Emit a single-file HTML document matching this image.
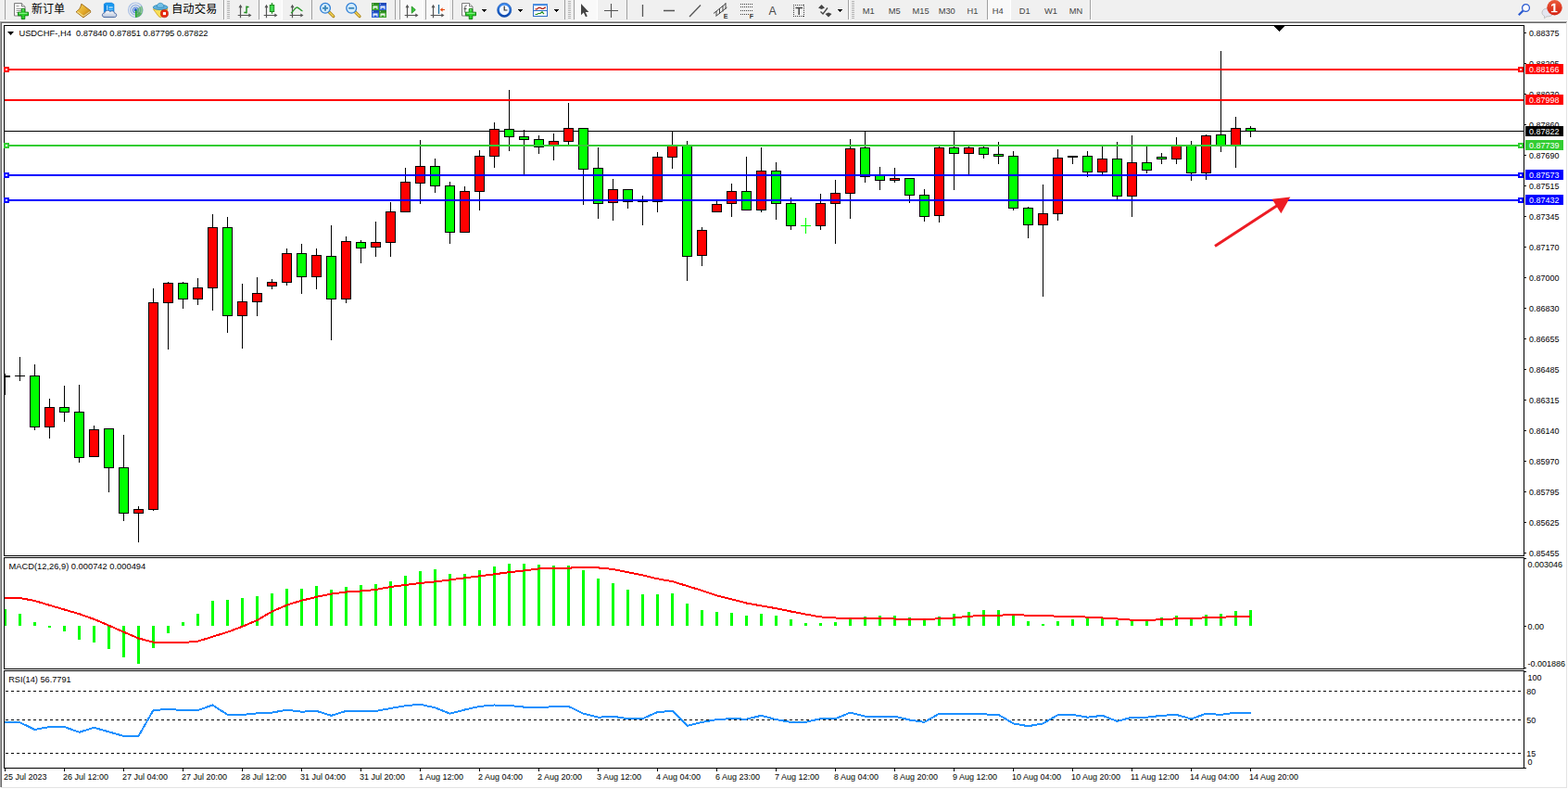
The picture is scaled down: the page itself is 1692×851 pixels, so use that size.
<!DOCTYPE html>
<html><head><meta charset="utf-8"><title>USDCHF H4</title>
<style>
html,body{margin:0;padding:0;background:#fff;}
body{width:1692px;height:851px;overflow:hidden;}
svg{display:block;font-family:"Liberation Sans",sans-serif;}
</style></head><body>
<svg width="1692" height="851" viewBox="0 0 1692 851" shape-rendering="crispEdges">
<rect x="0" y="0" width="1692" height="851" fill="#fff"/>
<rect x="0" y="0" width="1692" height="22" fill="#f0f0f0"/>
<rect x="0" y="22" width="1692" height="1" fill="#fdfdfd"/>
<rect x="0" y="23" width="1691" height="1" fill="#a0a0a0"/>
<rect x="0" y="23" width="1" height="826" fill="#a0a0a0"/>
<rect x="1" y="24" width="1689" height="1" fill="#696969"/>
<rect x="1" y="24" width="1" height="825" fill="#696969"/>
<rect x="1690" y="24" width="1" height="826" fill="#e3e3e3"/>
<rect x="1" y="849" width="1690" height="1" fill="#e3e3e3"/>
<rect x="1691" y="23" width="1" height="828" fill="#fff"/>
<rect x="0" y="850" width="1692" height="1" fill="#fff"/>
<rect x="4" y="27" width="1641" height="1" fill="#000"/>
<rect x="4" y="599" width="1641" height="1" fill="#000"/>
<rect x="4" y="27" width="1" height="573" fill="#000"/>
<rect x="1644" y="27" width="1" height="573" fill="#000"/>
<rect x="4" y="601" width="1641" height="1" fill="#000"/>
<rect x="4" y="721" width="1641" height="1" fill="#000"/>
<rect x="4" y="601" width="1" height="121" fill="#000"/>
<rect x="1644" y="601" width="1" height="121" fill="#000"/>
<rect x="4" y="723" width="1641" height="1" fill="#000"/>
<rect x="4" y="828" width="1641" height="1" fill="#000"/>
<rect x="4" y="723" width="1" height="106" fill="#000"/>
<rect x="1644" y="723" width="1" height="106" fill="#000"/>
<rect x="5" y="141" width="1639" height="1" fill="#000"/>
<rect x="5" y="403" width="1" height="23" fill="#000"/>
<rect x="5" y="405" width="6" height="2" fill="#000"/>
<rect x="37" y="393" width="1" height="71" fill="#000"/>
<rect x="32" y="405" width="11" height="56" fill="#000"/>
<rect x="33" y="406" width="9" height="54" fill="#00ff00"/>
<rect x="53" y="430" width="1" height="43" fill="#000"/>
<rect x="48" y="439" width="11" height="22" fill="#000"/>
<rect x="49" y="440" width="9" height="20" fill="#ff0000"/>
<rect x="69" y="416" width="1" height="39" fill="#000"/>
<rect x="64" y="439" width="11" height="6" fill="#000"/>
<rect x="65" y="440" width="9" height="4" fill="#00ff00"/>
<rect x="85" y="415" width="1" height="84" fill="#000"/>
<rect x="80" y="444" width="11" height="50" fill="#000"/>
<rect x="81" y="445" width="9" height="48" fill="#00ff00"/>
<rect x="101" y="459" width="1" height="34" fill="#000"/>
<rect x="96" y="463" width="11" height="30" fill="#000"/>
<rect x="97" y="464" width="9" height="28" fill="#ff0000"/>
<rect x="117" y="462" width="1" height="69" fill="#000"/>
<rect x="112" y="462" width="11" height="43" fill="#000"/>
<rect x="113" y="463" width="9" height="41" fill="#00ff00"/>
<rect x="133" y="469" width="1" height="93" fill="#000"/>
<rect x="128" y="504" width="11" height="50" fill="#000"/>
<rect x="129" y="505" width="9" height="48" fill="#00ff00"/>
<rect x="149" y="546" width="1" height="39" fill="#000"/>
<rect x="144" y="549" width="11" height="5" fill="#000"/>
<rect x="145" y="550" width="9" height="3" fill="#ff0000"/>
<rect x="165" y="311" width="1" height="240" fill="#000"/>
<rect x="160" y="326" width="11" height="224" fill="#000"/>
<rect x="161" y="327" width="9" height="222" fill="#ff0000"/>
<rect x="181" y="304" width="1" height="73" fill="#000"/>
<rect x="176" y="305" width="11" height="22" fill="#000"/>
<rect x="177" y="306" width="9" height="20" fill="#ff0000"/>
<rect x="197" y="304" width="1" height="29" fill="#000"/>
<rect x="192" y="305" width="11" height="18" fill="#000"/>
<rect x="193" y="306" width="9" height="16" fill="#00ff00"/>
<rect x="213" y="300" width="1" height="29" fill="#000"/>
<rect x="208" y="310" width="11" height="13" fill="#000"/>
<rect x="209" y="311" width="9" height="11" fill="#ff0000"/>
<rect x="229" y="231" width="1" height="104" fill="#000"/>
<rect x="224" y="245" width="11" height="66" fill="#000"/>
<rect x="225" y="246" width="9" height="64" fill="#ff0000"/>
<rect x="245" y="234" width="1" height="125" fill="#000"/>
<rect x="240" y="245" width="11" height="96" fill="#000"/>
<rect x="241" y="246" width="9" height="94" fill="#00ff00"/>
<rect x="261" y="306" width="1" height="70" fill="#000"/>
<rect x="256" y="325" width="11" height="16" fill="#000"/>
<rect x="257" y="326" width="9" height="14" fill="#ff0000"/>
<rect x="277" y="299" width="1" height="42" fill="#000"/>
<rect x="272" y="316" width="11" height="10" fill="#000"/>
<rect x="273" y="317" width="9" height="8" fill="#ff0000"/>
<rect x="293" y="301" width="1" height="11" fill="#000"/>
<rect x="288" y="304" width="11" height="5" fill="#000"/>
<rect x="289" y="305" width="9" height="3" fill="#ff0000"/>
<rect x="309" y="268" width="1" height="40" fill="#000"/>
<rect x="304" y="273" width="11" height="32" fill="#000"/>
<rect x="305" y="274" width="9" height="30" fill="#ff0000"/>
<rect x="325" y="263" width="1" height="54" fill="#000"/>
<rect x="320" y="273" width="11" height="26" fill="#000"/>
<rect x="321" y="274" width="9" height="24" fill="#00ff00"/>
<rect x="341" y="268" width="1" height="44" fill="#000"/>
<rect x="336" y="275" width="11" height="24" fill="#000"/>
<rect x="337" y="276" width="9" height="22" fill="#ff0000"/>
<rect x="357" y="243" width="1" height="124" fill="#000"/>
<rect x="352" y="276" width="11" height="47" fill="#000"/>
<rect x="353" y="277" width="9" height="45" fill="#00ff00"/>
<rect x="373" y="255" width="1" height="72" fill="#000"/>
<rect x="368" y="260" width="11" height="63" fill="#000"/>
<rect x="369" y="261" width="9" height="61" fill="#ff0000"/>
<rect x="389" y="259" width="1" height="25" fill="#000"/>
<rect x="384" y="261" width="11" height="7" fill="#000"/>
<rect x="385" y="262" width="9" height="5" fill="#00ff00"/>
<rect x="405" y="239" width="1" height="38" fill="#000"/>
<rect x="400" y="261" width="11" height="6" fill="#000"/>
<rect x="401" y="262" width="9" height="4" fill="#ff0000"/>
<rect x="421" y="218" width="1" height="59" fill="#000"/>
<rect x="416" y="228" width="11" height="34" fill="#000"/>
<rect x="417" y="229" width="9" height="32" fill="#ff0000"/>
<rect x="437" y="181" width="1" height="48" fill="#000"/>
<rect x="432" y="196" width="11" height="33" fill="#000"/>
<rect x="433" y="197" width="9" height="31" fill="#ff0000"/>
<rect x="453" y="151" width="1" height="69" fill="#000"/>
<rect x="448" y="179" width="11" height="19" fill="#000"/>
<rect x="449" y="180" width="9" height="17" fill="#ff0000"/>
<rect x="469" y="171" width="1" height="37" fill="#000"/>
<rect x="464" y="179" width="11" height="22" fill="#000"/>
<rect x="465" y="180" width="9" height="20" fill="#00ff00"/>
<rect x="485" y="196" width="1" height="67" fill="#000"/>
<rect x="480" y="200" width="11" height="51" fill="#000"/>
<rect x="481" y="201" width="9" height="49" fill="#00ff00"/>
<rect x="501" y="201" width="1" height="50" fill="#000"/>
<rect x="496" y="206" width="11" height="45" fill="#000"/>
<rect x="497" y="207" width="9" height="43" fill="#ff0000"/>
<rect x="517" y="162" width="1" height="65" fill="#000"/>
<rect x="512" y="168" width="11" height="39" fill="#000"/>
<rect x="513" y="169" width="9" height="37" fill="#ff0000"/>
<rect x="533" y="132" width="1" height="49" fill="#000"/>
<rect x="528" y="139" width="11" height="30" fill="#000"/>
<rect x="529" y="140" width="9" height="28" fill="#ff0000"/>
<rect x="549" y="97" width="1" height="66" fill="#000"/>
<rect x="544" y="139" width="11" height="9" fill="#000"/>
<rect x="545" y="140" width="9" height="7" fill="#00ff00"/>
<rect x="565" y="140" width="1" height="49" fill="#000"/>
<rect x="560" y="147" width="11" height="4" fill="#000"/>
<rect x="561" y="148" width="9" height="2" fill="#00ff00"/>
<rect x="581" y="146" width="1" height="20" fill="#000"/>
<rect x="576" y="150" width="11" height="9" fill="#000"/>
<rect x="577" y="151" width="9" height="7" fill="#00ff00"/>
<rect x="597" y="144" width="1" height="29" fill="#000"/>
<rect x="592" y="152" width="11" height="5" fill="#000"/>
<rect x="593" y="153" width="9" height="3" fill="#ff0000"/>
<rect x="613" y="111" width="1" height="45" fill="#000"/>
<rect x="608" y="138" width="11" height="15" fill="#000"/>
<rect x="609" y="139" width="9" height="13" fill="#ff0000"/>
<rect x="629" y="138" width="1" height="83" fill="#000"/>
<rect x="624" y="138" width="11" height="45" fill="#000"/>
<rect x="625" y="139" width="9" height="43" fill="#00ff00"/>
<rect x="645" y="159" width="1" height="77" fill="#000"/>
<rect x="640" y="181" width="11" height="39" fill="#000"/>
<rect x="641" y="182" width="9" height="37" fill="#00ff00"/>
<rect x="661" y="193" width="1" height="45" fill="#000"/>
<rect x="656" y="204" width="11" height="15" fill="#000"/>
<rect x="657" y="205" width="9" height="13" fill="#ff0000"/>
<rect x="677" y="204" width="1" height="21" fill="#000"/>
<rect x="672" y="204" width="11" height="14" fill="#000"/>
<rect x="673" y="205" width="9" height="12" fill="#00ff00"/>
<rect x="709" y="164" width="1" height="65" fill="#000"/>
<rect x="704" y="169" width="11" height="49" fill="#000"/>
<rect x="705" y="170" width="9" height="47" fill="#ff0000"/>
<rect x="725" y="142" width="1" height="40" fill="#000"/>
<rect x="720" y="157" width="11" height="13" fill="#000"/>
<rect x="721" y="158" width="9" height="11" fill="#ff0000"/>
<rect x="741" y="152" width="1" height="151" fill="#000"/>
<rect x="736" y="157" width="11" height="120" fill="#000"/>
<rect x="737" y="158" width="9" height="118" fill="#00ff00"/>
<rect x="757" y="245" width="1" height="42" fill="#000"/>
<rect x="752" y="248" width="11" height="28" fill="#000"/>
<rect x="753" y="249" width="9" height="26" fill="#ff0000"/>
<rect x="773" y="217" width="1" height="12" fill="#000"/>
<rect x="768" y="220" width="11" height="9" fill="#000"/>
<rect x="769" y="221" width="9" height="7" fill="#ff0000"/>
<rect x="789" y="198" width="1" height="36" fill="#000"/>
<rect x="784" y="206" width="11" height="14" fill="#000"/>
<rect x="785" y="207" width="9" height="12" fill="#ff0000"/>
<rect x="805" y="169" width="1" height="58" fill="#000"/>
<rect x="800" y="206" width="11" height="21" fill="#000"/>
<rect x="801" y="207" width="9" height="19" fill="#00ff00"/>
<rect x="821" y="159" width="1" height="70" fill="#000"/>
<rect x="816" y="184" width="11" height="43" fill="#000"/>
<rect x="817" y="185" width="9" height="41" fill="#ff0000"/>
<rect x="837" y="175" width="1" height="62" fill="#000"/>
<rect x="832" y="184" width="11" height="36" fill="#000"/>
<rect x="833" y="185" width="9" height="34" fill="#00ff00"/>
<rect x="853" y="213" width="1" height="35" fill="#000"/>
<rect x="848" y="219" width="11" height="25" fill="#000"/>
<rect x="849" y="220" width="9" height="23" fill="#00ff00"/>
<rect x="885" y="209" width="1" height="39" fill="#000"/>
<rect x="880" y="219" width="11" height="25" fill="#000"/>
<rect x="881" y="220" width="9" height="23" fill="#ff0000"/>
<rect x="901" y="194" width="1" height="69" fill="#000"/>
<rect x="896" y="208" width="11" height="12" fill="#000"/>
<rect x="897" y="209" width="9" height="10" fill="#ff0000"/>
<rect x="917" y="150" width="1" height="86" fill="#000"/>
<rect x="912" y="160" width="11" height="49" fill="#000"/>
<rect x="913" y="161" width="9" height="47" fill="#ff0000"/>
<rect x="933" y="142" width="1" height="55" fill="#000"/>
<rect x="928" y="159" width="11" height="32" fill="#000"/>
<rect x="929" y="160" width="9" height="30" fill="#00ff00"/>
<rect x="949" y="180" width="1" height="25" fill="#000"/>
<rect x="944" y="189" width="11" height="6" fill="#000"/>
<rect x="945" y="190" width="9" height="4" fill="#00ff00"/>
<rect x="965" y="181" width="1" height="16" fill="#000"/>
<rect x="960" y="192" width="11" height="3" fill="#000"/>
<rect x="961" y="193" width="9" height="1" fill="#ff0000"/>
<rect x="981" y="192" width="1" height="27" fill="#000"/>
<rect x="976" y="192" width="11" height="19" fill="#000"/>
<rect x="977" y="193" width="9" height="17" fill="#00ff00"/>
<rect x="997" y="204" width="1" height="35" fill="#000"/>
<rect x="992" y="210" width="11" height="24" fill="#000"/>
<rect x="993" y="211" width="9" height="22" fill="#00ff00"/>
<rect x="1013" y="158" width="1" height="82" fill="#000"/>
<rect x="1008" y="159" width="11" height="74" fill="#000"/>
<rect x="1009" y="160" width="9" height="72" fill="#ff0000"/>
<rect x="1029" y="142" width="1" height="63" fill="#000"/>
<rect x="1024" y="159" width="11" height="7" fill="#000"/>
<rect x="1025" y="160" width="9" height="5" fill="#00ff00"/>
<rect x="1045" y="158" width="1" height="31" fill="#000"/>
<rect x="1040" y="159" width="11" height="7" fill="#000"/>
<rect x="1041" y="160" width="9" height="5" fill="#ff0000"/>
<rect x="1061" y="158" width="1" height="13" fill="#000"/>
<rect x="1056" y="159" width="11" height="8" fill="#000"/>
<rect x="1057" y="160" width="9" height="6" fill="#00ff00"/>
<rect x="1077" y="153" width="1" height="24" fill="#000"/>
<rect x="1072" y="166" width="11" height="3" fill="#000"/>
<rect x="1073" y="167" width="9" height="1" fill="#00ff00"/>
<rect x="1093" y="163" width="1" height="64" fill="#000"/>
<rect x="1088" y="168" width="11" height="57" fill="#000"/>
<rect x="1089" y="169" width="9" height="55" fill="#00ff00"/>
<rect x="1109" y="223" width="1" height="34" fill="#000"/>
<rect x="1104" y="224" width="11" height="19" fill="#000"/>
<rect x="1105" y="225" width="9" height="17" fill="#00ff00"/>
<rect x="1125" y="199" width="1" height="121" fill="#000"/>
<rect x="1120" y="230" width="11" height="13" fill="#000"/>
<rect x="1121" y="231" width="9" height="11" fill="#ff0000"/>
<rect x="1141" y="161" width="1" height="77" fill="#000"/>
<rect x="1136" y="170" width="11" height="61" fill="#000"/>
<rect x="1137" y="171" width="9" height="59" fill="#ff0000"/>
<rect x="1173" y="163" width="1" height="28" fill="#000"/>
<rect x="1168" y="168" width="11" height="18" fill="#000"/>
<rect x="1169" y="169" width="9" height="16" fill="#00ff00"/>
<rect x="1189" y="158" width="1" height="31" fill="#000"/>
<rect x="1184" y="171" width="11" height="15" fill="#000"/>
<rect x="1185" y="172" width="9" height="13" fill="#ff0000"/>
<rect x="1205" y="153" width="1" height="62" fill="#000"/>
<rect x="1200" y="171" width="11" height="41" fill="#000"/>
<rect x="1201" y="172" width="9" height="39" fill="#00ff00"/>
<rect x="1221" y="146" width="1" height="88" fill="#000"/>
<rect x="1216" y="175" width="11" height="37" fill="#000"/>
<rect x="1217" y="176" width="9" height="35" fill="#ff0000"/>
<rect x="1237" y="158" width="1" height="29" fill="#000"/>
<rect x="1232" y="175" width="11" height="9" fill="#000"/>
<rect x="1233" y="176" width="9" height="7" fill="#00ff00"/>
<rect x="1253" y="165" width="1" height="12" fill="#000"/>
<rect x="1248" y="169" width="11" height="3" fill="#000"/>
<rect x="1249" y="170" width="9" height="1" fill="#00ff00"/>
<rect x="1269" y="148" width="1" height="29" fill="#000"/>
<rect x="1264" y="157" width="11" height="15" fill="#000"/>
<rect x="1265" y="158" width="9" height="13" fill="#ff0000"/>
<rect x="1285" y="152" width="1" height="43" fill="#000"/>
<rect x="1280" y="157" width="11" height="30" fill="#000"/>
<rect x="1281" y="158" width="9" height="28" fill="#00ff00"/>
<rect x="1301" y="145" width="1" height="49" fill="#000"/>
<rect x="1296" y="146" width="11" height="41" fill="#000"/>
<rect x="1297" y="147" width="9" height="39" fill="#ff0000"/>
<rect x="1317" y="55" width="1" height="109" fill="#000"/>
<rect x="1312" y="145" width="11" height="13" fill="#000"/>
<rect x="1313" y="146" width="9" height="11" fill="#00ff00"/>
<rect x="1333" y="126" width="1" height="55" fill="#000"/>
<rect x="1328" y="138" width="11" height="20" fill="#000"/>
<rect x="1329" y="139" width="9" height="18" fill="#ff0000"/>
<rect x="1349" y="136" width="1" height="12" fill="#000"/>
<rect x="1344" y="138" width="11" height="4" fill="#000"/>
<rect x="1345" y="139" width="9" height="2" fill="#00ff00"/>
<rect x="21" y="385" width="1" height="26" fill="#000"/>
<rect x="16" y="405" width="11" height="1" fill="#000"/>
<rect x="693" y="211" width="1" height="32" fill="#000"/>
<rect x="688" y="217" width="11" height="1" fill="#000"/>
<rect x="869" y="235" width="1" height="17" fill="#00ff00"/>
<rect x="864" y="243" width="11" height="1" fill="#00ff00"/>
<rect x="1157" y="168" width="1" height="9" fill="#000"/>
<rect x="1152" y="168" width="11" height="2" fill="#000"/>
<rect x="5" y="74" width="1639" height="2" fill="#ff0000"/>
<rect x="4" y="72" width="6" height="6" fill="#ff0000"/>
<rect x="6" y="74" width="2" height="2" fill="#fff"/>
<rect x="1638" y="72" width="6" height="6" fill="#ff0000"/>
<rect x="1640" y="74" width="2" height="2" fill="#fff"/>
<rect x="5" y="107" width="1639" height="2" fill="#ff0000"/>
<rect x="5" y="156" width="1639" height="2" fill="#32cd32"/>
<rect x="4" y="154" width="6" height="6" fill="#32cd32"/>
<rect x="6" y="156" width="2" height="2" fill="#fff"/>
<rect x="1638" y="154" width="6" height="6" fill="#32cd32"/>
<rect x="1640" y="156" width="2" height="2" fill="#fff"/>
<rect x="5" y="188" width="1639" height="2" fill="#0000ff"/>
<rect x="4" y="186" width="6" height="6" fill="#0000ff"/>
<rect x="6" y="188" width="2" height="2" fill="#fff"/>
<rect x="1638" y="186" width="6" height="6" fill="#0000ff"/>
<rect x="1640" y="188" width="2" height="2" fill="#fff"/>
<rect x="5" y="215" width="1639" height="2" fill="#0000ff"/>
<rect x="4" y="213" width="6" height="6" fill="#0000ff"/>
<rect x="6" y="215" width="2" height="2" fill="#fff"/>
<rect x="1638" y="213" width="6" height="6" fill="#0000ff"/>
<rect x="1640" y="215" width="2" height="2" fill="#fff"/>
<rect x="1375" y="28" width="11" height="1" fill="#000"/>
<rect x="1376" y="29" width="9" height="1" fill="#000"/>
<rect x="1377" y="30" width="7" height="1" fill="#000"/>
<rect x="1378" y="31" width="5" height="1" fill="#000"/>
<rect x="1379" y="32" width="3" height="1" fill="#000"/>
<rect x="1380" y="33" width="1" height="1" fill="#000"/>
<rect x="1645" y="35" width="2" height="1" fill="#000"/>
<text transform="translate(1650,39) scale(1,1.086)" fill="#000" font-size="9" text-anchor="start" >0.88375</text>
<rect x="1645" y="68" width="2" height="1" fill="#000"/>
<text transform="translate(1650,72) scale(1,1.086)" fill="#000" font-size="9" text-anchor="start" >0.88205</text>
<rect x="1645" y="101" width="2" height="1" fill="#000"/>
<text transform="translate(1650,105) scale(1,1.086)" fill="#000" font-size="9" text-anchor="start" >0.88030</text>
<rect x="1645" y="134" width="2" height="1" fill="#000"/>
<text transform="translate(1650,138) scale(1,1.086)" fill="#000" font-size="9" text-anchor="start" >0.87860</text>
<rect x="1645" y="167" width="2" height="1" fill="#000"/>
<text transform="translate(1650,171) scale(1,1.086)" fill="#000" font-size="9" text-anchor="start" >0.87690</text>
<rect x="1645" y="200" width="2" height="1" fill="#000"/>
<text transform="translate(1650,204) scale(1,1.086)" fill="#000" font-size="9" text-anchor="start" >0.87515</text>
<rect x="1645" y="233" width="2" height="1" fill="#000"/>
<text transform="translate(1650,237) scale(1,1.086)" fill="#000" font-size="9" text-anchor="start" >0.87345</text>
<rect x="1645" y="266" width="2" height="1" fill="#000"/>
<text transform="translate(1650,270) scale(1,1.086)" fill="#000" font-size="9" text-anchor="start" >0.87170</text>
<rect x="1645" y="299" width="2" height="1" fill="#000"/>
<text transform="translate(1650,303) scale(1,1.086)" fill="#000" font-size="9" text-anchor="start" >0.87000</text>
<rect x="1645" y="332" width="2" height="1" fill="#000"/>
<text transform="translate(1650,336) scale(1,1.086)" fill="#000" font-size="9" text-anchor="start" >0.86830</text>
<rect x="1645" y="365" width="2" height="1" fill="#000"/>
<text transform="translate(1650,369) scale(1,1.086)" fill="#000" font-size="9" text-anchor="start" >0.86655</text>
<rect x="1645" y="398" width="2" height="1" fill="#000"/>
<text transform="translate(1650,402) scale(1,1.086)" fill="#000" font-size="9" text-anchor="start" >0.86485</text>
<rect x="1645" y="431" width="2" height="1" fill="#000"/>
<text transform="translate(1650,435) scale(1,1.086)" fill="#000" font-size="9" text-anchor="start" >0.86315</text>
<rect x="1645" y="464" width="2" height="1" fill="#000"/>
<text transform="translate(1650,468) scale(1,1.086)" fill="#000" font-size="9" text-anchor="start" >0.86140</text>
<rect x="1645" y="497" width="2" height="1" fill="#000"/>
<text transform="translate(1650,501) scale(1,1.086)" fill="#000" font-size="9" text-anchor="start" >0.85970</text>
<rect x="1645" y="530" width="2" height="1" fill="#000"/>
<text transform="translate(1650,534) scale(1,1.086)" fill="#000" font-size="9" text-anchor="start" >0.85795</text>
<rect x="1645" y="563" width="2" height="1" fill="#000"/>
<text transform="translate(1650,567) scale(1,1.086)" fill="#000" font-size="9" text-anchor="start" >0.85625</text>
<rect x="1645" y="596" width="2" height="1" fill="#000"/>
<text transform="translate(1650,600) scale(1,1.086)" fill="#000" font-size="9" text-anchor="start" >0.85455</text>
<rect x="1646" y="69" width="41" height="11" fill="#ff0000"/>
<text transform="translate(1650,78) scale(1,1.086)" fill="#fff" font-size="9" text-anchor="start" >0.88166</text>
<rect x="1646" y="102" width="41" height="11" fill="#ff0000"/>
<text transform="translate(1650,111) scale(1,1.086)" fill="#fff" font-size="9" text-anchor="start" >0.87998</text>
<rect x="1646" y="136" width="41" height="11" fill="#000"/>
<text transform="translate(1650,145) scale(1,1.086)" fill="#fff" font-size="9" text-anchor="start" >0.87822</text>
<rect x="1646" y="151" width="41" height="11" fill="#32cd32"/>
<text transform="translate(1650,160) scale(1,1.086)" fill="#fff" font-size="9" text-anchor="start" >0.87739</text>
<rect x="1646" y="183" width="41" height="11" fill="#0000ff"/>
<text transform="translate(1650,192) scale(1,1.086)" fill="#fff" font-size="9" text-anchor="start" >0.87573</text>
<rect x="1646" y="210" width="41" height="11" fill="#0000ff"/>
<text transform="translate(1650,219) scale(1,1.086)" fill="#fff" font-size="9" text-anchor="start" >0.87432</text>
<path d="M8 34h7l-3.5 4z" fill="#000" shape-rendering="geometricPrecision"/>
<text transform="translate(20.4,39) scale(1,1.048)" fill="#000" font-size="9.33" text-anchor="start" id="t1">USDCHF-,H4&#160; 0.87840 0.87851 0.87795 0.87822</text>
<g shape-rendering="geometricPrecision"><line x1="1311" y1="265.5" x2="1380" y2="220.5" stroke="#ed1c24" stroke-width="3"/><path d="M1392.3 212.6 L1372.6 214.8 L1382.4 230.2 Z" fill="#ed1c24"/></g>
<rect x="5" y="657" width="2" height="18" fill="#00ff00"/>
<rect x="20" y="662" width="3" height="13" fill="#00ff00"/>
<rect x="36" y="671" width="3" height="4" fill="#00ff00"/>
<rect x="52" y="675" width="3" height="2" fill="#00ff00"/>
<rect x="68" y="675" width="3" height="6" fill="#00ff00"/>
<rect x="84" y="675" width="3" height="15" fill="#00ff00"/>
<rect x="100" y="675" width="3" height="18" fill="#00ff00"/>
<rect x="116" y="675" width="3" height="25" fill="#00ff00"/>
<rect x="132" y="675" width="3" height="34" fill="#00ff00"/>
<rect x="148" y="675" width="3" height="41" fill="#00ff00"/>
<rect x="164" y="675" width="3" height="24" fill="#00ff00"/>
<rect x="180" y="675" width="3" height="8" fill="#00ff00"/>
<rect x="196" y="671" width="3" height="4" fill="#00ff00"/>
<rect x="212" y="662" width="3" height="13" fill="#00ff00"/>
<rect x="228" y="648" width="3" height="27" fill="#00ff00"/>
<rect x="244" y="647" width="3" height="28" fill="#00ff00"/>
<rect x="260" y="645" width="3" height="30" fill="#00ff00"/>
<rect x="276" y="643" width="3" height="32" fill="#00ff00"/>
<rect x="292" y="640" width="3" height="35" fill="#00ff00"/>
<rect x="308" y="635" width="3" height="40" fill="#00ff00"/>
<rect x="324" y="635" width="3" height="40" fill="#00ff00"/>
<rect x="340" y="632" width="3" height="43" fill="#00ff00"/>
<rect x="356" y="636" width="3" height="39" fill="#00ff00"/>
<rect x="372" y="633" width="3" height="42" fill="#00ff00"/>
<rect x="388" y="631" width="3" height="44" fill="#00ff00"/>
<rect x="404" y="630" width="3" height="45" fill="#00ff00"/>
<rect x="420" y="627" width="3" height="48" fill="#00ff00"/>
<rect x="436" y="621" width="3" height="54" fill="#00ff00"/>
<rect x="452" y="616" width="3" height="59" fill="#00ff00"/>
<rect x="468" y="614" width="3" height="61" fill="#00ff00"/>
<rect x="484" y="619" width="3" height="56" fill="#00ff00"/>
<rect x="500" y="619" width="3" height="56" fill="#00ff00"/>
<rect x="516" y="615" width="3" height="60" fill="#00ff00"/>
<rect x="532" y="611" width="3" height="64" fill="#00ff00"/>
<rect x="548" y="608" width="3" height="67" fill="#00ff00"/>
<rect x="564" y="608" width="3" height="67" fill="#00ff00"/>
<rect x="580" y="609" width="3" height="66" fill="#00ff00"/>
<rect x="596" y="610" width="3" height="65" fill="#00ff00"/>
<rect x="612" y="610" width="3" height="65" fill="#00ff00"/>
<rect x="628" y="615" width="3" height="60" fill="#00ff00"/>
<rect x="644" y="624" width="3" height="51" fill="#00ff00"/>
<rect x="660" y="629" width="3" height="46" fill="#00ff00"/>
<rect x="676" y="636" width="3" height="39" fill="#00ff00"/>
<rect x="692" y="641" width="3" height="34" fill="#00ff00"/>
<rect x="708" y="641" width="3" height="34" fill="#00ff00"/>
<rect x="724" y="640" width="3" height="35" fill="#00ff00"/>
<rect x="740" y="651" width="3" height="24" fill="#00ff00"/>
<rect x="756" y="658" width="3" height="17" fill="#00ff00"/>
<rect x="772" y="660" width="3" height="15" fill="#00ff00"/>
<rect x="788" y="661" width="3" height="14" fill="#00ff00"/>
<rect x="804" y="664" width="3" height="11" fill="#00ff00"/>
<rect x="820" y="662" width="3" height="13" fill="#00ff00"/>
<rect x="836" y="664" width="3" height="11" fill="#00ff00"/>
<rect x="852" y="668" width="3" height="7" fill="#00ff00"/>
<rect x="868" y="672" width="3" height="3" fill="#00ff00"/>
<rect x="884" y="672" width="3" height="3" fill="#00ff00"/>
<rect x="900" y="671" width="3" height="4" fill="#00ff00"/>
<rect x="916" y="667" width="3" height="8" fill="#00ff00"/>
<rect x="932" y="665" width="3" height="10" fill="#00ff00"/>
<rect x="948" y="664" width="3" height="11" fill="#00ff00"/>
<rect x="964" y="664" width="3" height="11" fill="#00ff00"/>
<rect x="980" y="666" width="3" height="9" fill="#00ff00"/>
<rect x="996" y="667" width="3" height="8" fill="#00ff00"/>
<rect x="1012" y="665" width="3" height="10" fill="#00ff00"/>
<rect x="1028" y="662" width="3" height="13" fill="#00ff00"/>
<rect x="1044" y="660" width="3" height="15" fill="#00ff00"/>
<rect x="1060" y="658" width="3" height="17" fill="#00ff00"/>
<rect x="1076" y="658" width="3" height="17" fill="#00ff00"/>
<rect x="1092" y="663" width="3" height="12" fill="#00ff00"/>
<rect x="1108" y="670" width="3" height="5" fill="#00ff00"/>
<rect x="1124" y="673" width="3" height="2" fill="#00ff00"/>
<rect x="1140" y="670" width="3" height="5" fill="#00ff00"/>
<rect x="1156" y="668" width="3" height="7" fill="#00ff00"/>
<rect x="1172" y="666" width="3" height="9" fill="#00ff00"/>
<rect x="1188" y="667" width="3" height="8" fill="#00ff00"/>
<rect x="1204" y="669" width="3" height="6" fill="#00ff00"/>
<rect x="1220" y="669" width="3" height="6" fill="#00ff00"/>
<rect x="1236" y="669" width="3" height="6" fill="#00ff00"/>
<rect x="1252" y="666" width="3" height="9" fill="#00ff00"/>
<rect x="1268" y="664" width="3" height="11" fill="#00ff00"/>
<rect x="1284" y="667" width="3" height="8" fill="#00ff00"/>
<rect x="1300" y="663" width="3" height="12" fill="#00ff00"/>
<rect x="1316" y="662" width="3" height="13" fill="#00ff00"/>
<rect x="1332" y="659" width="3" height="16" fill="#00ff00"/>
<rect x="1348" y="658" width="3" height="17" fill="#00ff00"/>
<polyline points="5.0,645 21.5,645 37.5,648 53.5,652.8 69.5,657.5 85.5,662.2 101.5,667.9 117.5,674.6 133.5,681.7 149.5,688.5 165.5,692.6 181.5,693 197.5,693 213.5,691.7 229.5,686.7 245.5,681.7 261.5,675.8 277.5,669 293.5,659.5 309.5,652.6 325.5,647.7 341.5,643.9 357.5,640.6 373.5,638.5 389.5,637.5 405.5,636 421.5,633 437.5,631 453.5,629 469.5,627.4 485.5,625.4 501.5,623.3 517.5,621.3 533.5,619.3 549.5,617.2 565.5,615.5 581.5,613.4 597.5,612.9 613.5,612.6 629.5,612.1 645.5,612.4 661.5,614 677.5,617.2 693.5,620.3 709.5,624.3 725.5,627.1 741.5,632 757.5,637 773.5,642.4 789.5,646.3 805.5,650.5 821.5,653.4 837.5,656.2 853.5,659.5 869.5,662.6 885.5,665.4 901.5,666.5 917.5,667.1 933.5,667.3 949.5,667.4 965.5,667.5 981.5,668 997.5,668 1013.5,667.3 1029.5,666.5 1045.5,664.7 1061.5,664 1077.5,663.7 1093.5,663 1109.5,663.7 1125.5,664 1141.5,664.7 1157.5,665 1173.5,665.6 1189.5,666.5 1205.5,667.5 1221.5,668.7 1237.5,669 1253.5,668.2 1269.5,667.3 1285.5,667 1301.5,666.3 1317.5,665.7 1333.5,665.1 1349.5,665" fill="none" stroke="#ff0000" stroke-width="2" stroke-linejoin="round"/>
<text transform="translate(9.5,614) scale(1,1.048)" fill="#000" font-size="9.33" text-anchor="start" id="t2">MACD(12,26,9) 0.000742 0.000494</text>
<rect x="1645" y="602" width="2" height="1" fill="#000"/>
<text transform="translate(1648.5,612) scale(1,1.086)" fill="#000" font-size="9" text-anchor="start" >0.003046</text>
<rect x="1645" y="675" width="2" height="1" fill="#000"/>
<text transform="translate(1648.5,679) scale(1,1.086)" fill="#000" font-size="9" text-anchor="start" >0.00</text>
<rect x="1645" y="720" width="2" height="1" fill="#000"/>
<text transform="translate(1648.5,719) scale(1,1.086)" fill="#000" font-size="9" text-anchor="start" >-0.001886</text>
<line x1="6" y1="745.5" x2="1641" y2="745.5" stroke="#000" stroke-width="1" stroke-dasharray="3 3"/>
<line x1="6" y1="776.5" x2="1641" y2="776.5" stroke="#000" stroke-width="1" stroke-dasharray="3 3"/>
<line x1="6" y1="812.5" x2="1641" y2="812.5" stroke="#000" stroke-width="1" stroke-dasharray="3 3"/>
<polyline points="5.0,779.2 21.5,779.2 37.5,787 53.5,784 69.5,784 85.5,789.8 101.5,784.8 117.5,789.4 133.5,793.9 149.5,793.9 165.5,766 181.5,765 197.5,766 213.5,766 229.5,760.5 245.5,770.9 261.5,770.9 277.5,769.4 293.5,768.6 309.5,765.7 325.5,767.7 341.5,766.9 357.5,771.8 373.5,766.9 389.5,766.9 405.5,766.9 421.5,764 437.5,761.2 453.5,759.8 469.5,763.3 485.5,769.7 501.5,765.5 517.5,761.9 533.5,760.5 549.5,760.9 565.5,762.6 581.5,762.9 597.5,762.3 613.5,761.9 629.5,769.7 645.5,773.7 661.5,772.8 677.5,775.1 693.5,775.1 709.5,768 725.5,766.9 741.5,782.8 757.5,778.9 773.5,776.1 789.5,775.1 805.5,775.7 821.5,771.8 837.5,776.1 853.5,778.9 869.5,778.9 885.5,775.1 901.5,775.1 917.5,768.6 933.5,772.6 949.5,772.6 965.5,772.6 981.5,776.5 997.5,778.9 1013.5,769.7 1029.5,769.7 1045.5,769.7 1061.5,770.4 1077.5,770.9 1093.5,780.4 1109.5,783.2 1125.5,780.4 1141.5,771.1 1157.5,770.9 1173.5,773.7 1189.5,771.8 1205.5,777.9 1221.5,773.7 1237.5,773.7 1253.5,771.8 1269.5,770.9 1285.5,775.4 1301.5,769.7 1317.5,770.9 1333.5,768.6 1349.5,768.6" fill="none" stroke="#1e90ff" stroke-width="2" stroke-linejoin="round"/>
<text transform="translate(9.2,736) scale(1,1.063)" fill="#000" font-size="9.2" text-anchor="start" id="t3">RSI(14) 56.7791</text>
<text transform="translate(1648.6,734) scale(1,1.086)" fill="#000" font-size="9" text-anchor="start" >100</text>
<text transform="translate(1647.2,749) scale(1,1.086)" fill="#000" font-size="9" text-anchor="start" >80</text>
<text transform="translate(1647.2,780) scale(1,1.086)" fill="#000" font-size="9" text-anchor="start" >50</text>
<text transform="translate(1647.2,816) scale(1,1.086)" fill="#000" font-size="9" text-anchor="start" >15</text>
<text transform="translate(1648.6,825) scale(1,1.086)" fill="#000" font-size="9" text-anchor="start" >0</text>
<rect x="1645" y="724" width="2" height="1" fill="#000"/>
<rect x="1645" y="828" width="2" height="1" fill="#000"/>
<rect x="5" y="829" width="1" height="3" fill="#000"/>
<text transform="translate(4,841) scale(1,1.086)" fill="#000" font-size="9" text-anchor="start" >25 Jul 2023</text>
<rect x="69" y="829" width="1" height="3" fill="#000"/>
<text transform="translate(68,841) scale(1,1.086)" fill="#000" font-size="9" text-anchor="start" >26 Jul 12:00</text>
<rect x="133" y="829" width="1" height="3" fill="#000"/>
<text transform="translate(132,841) scale(1,1.086)" fill="#000" font-size="9" text-anchor="start" >27 Jul 04:00</text>
<rect x="197" y="829" width="1" height="3" fill="#000"/>
<text transform="translate(196,841) scale(1,1.086)" fill="#000" font-size="9" text-anchor="start" >27 Jul 20:00</text>
<rect x="261" y="829" width="1" height="3" fill="#000"/>
<text transform="translate(260,841) scale(1,1.086)" fill="#000" font-size="9" text-anchor="start" >28 Jul 12:00</text>
<rect x="325" y="829" width="1" height="3" fill="#000"/>
<text transform="translate(324,841) scale(1,1.086)" fill="#000" font-size="9" text-anchor="start" >31 Jul 04:00</text>
<rect x="389" y="829" width="1" height="3" fill="#000"/>
<text transform="translate(388,841) scale(1,1.086)" fill="#000" font-size="9" text-anchor="start" >31 Jul 20:00</text>
<rect x="453" y="829" width="1" height="3" fill="#000"/>
<text transform="translate(452,841) scale(1,1.086)" fill="#000" font-size="9" text-anchor="start" >1 Aug 12:00</text>
<rect x="517" y="829" width="1" height="3" fill="#000"/>
<text transform="translate(516,841) scale(1,1.086)" fill="#000" font-size="9" text-anchor="start" >2 Aug 04:00</text>
<rect x="581" y="829" width="1" height="3" fill="#000"/>
<text transform="translate(580,841) scale(1,1.086)" fill="#000" font-size="9" text-anchor="start" >2 Aug 20:00</text>
<rect x="645" y="829" width="1" height="3" fill="#000"/>
<text transform="translate(644,841) scale(1,1.086)" fill="#000" font-size="9" text-anchor="start" >3 Aug 12:00</text>
<rect x="709" y="829" width="1" height="3" fill="#000"/>
<text transform="translate(708,841) scale(1,1.086)" fill="#000" font-size="9" text-anchor="start" >4 Aug 04:00</text>
<rect x="773" y="829" width="1" height="3" fill="#000"/>
<text transform="translate(772,841) scale(1,1.086)" fill="#000" font-size="9" text-anchor="start" >6 Aug 23:00</text>
<rect x="837" y="829" width="1" height="3" fill="#000"/>
<text transform="translate(836,841) scale(1,1.086)" fill="#000" font-size="9" text-anchor="start" >7 Aug 12:00</text>
<rect x="901" y="829" width="1" height="3" fill="#000"/>
<text transform="translate(900,841) scale(1,1.086)" fill="#000" font-size="9" text-anchor="start" >8 Aug 04:00</text>
<rect x="965" y="829" width="1" height="3" fill="#000"/>
<text transform="translate(964,841) scale(1,1.086)" fill="#000" font-size="9" text-anchor="start" >8 Aug 20:00</text>
<rect x="1029" y="829" width="1" height="3" fill="#000"/>
<text transform="translate(1028,841) scale(1,1.086)" fill="#000" font-size="9" text-anchor="start" >9 Aug 12:00</text>
<rect x="1093" y="829" width="1" height="3" fill="#000"/>
<text transform="translate(1092,841) scale(1,1.086)" fill="#000" font-size="9" text-anchor="start" >10 Aug 04:00</text>
<rect x="1157" y="829" width="1" height="3" fill="#000"/>
<text transform="translate(1156,841) scale(1,1.086)" fill="#000" font-size="9" text-anchor="start" >10 Aug 20:00</text>
<rect x="1221" y="829" width="1" height="3" fill="#000"/>
<text transform="translate(1220,841) scale(1,1.086)" fill="#000" font-size="9" text-anchor="start" >11 Aug 12:00</text>
<rect x="1285" y="829" width="1" height="3" fill="#000"/>
<text transform="translate(1284,841) scale(1,1.086)" fill="#000" font-size="9" text-anchor="start" >14 Aug 04:00</text>
<rect x="1349" y="829" width="1" height="3" fill="#000"/>
<text transform="translate(1348,841) scale(1,1.086)" fill="#000" font-size="9" text-anchor="start" >14 Aug 20:00</text>
<g shape-rendering="crispEdges">
<rect x="5" y="0" width="1" height="21" fill="#a0a0a0"/>
<rect x="241" y="0" width="1" height="21" fill="#a0a0a0"/>
<rect x="279" y="0" width="1" height="21" fill="#a0a0a0"/>
<rect x="336" y="0" width="1" height="21" fill="#a0a0a0"/>
<rect x="426" y="0" width="1" height="21" fill="#a0a0a0"/>
<rect x="431" y="0" width="1" height="21" fill="#a0a0a0"/>
<rect x="459" y="0" width="1" height="21" fill="#a0a0a0"/>
<rect x="488" y="0" width="1" height="21" fill="#a0a0a0"/>
<rect x="609" y="0" width="1" height="21" fill="#a0a0a0"/>
<rect x="619" y="0" width="1" height="21" fill="#a0a0a0"/>
<rect x="676" y="0" width="1" height="21" fill="#a0a0a0"/>
<rect x="915" y="0" width="1" height="21" fill="#a0a0a0"/>
<rect x="1065" y="0" width="1" height="21" fill="#a0a0a0"/>
<rect x="1176" y="0" width="1" height="21" fill="#a0a0a0"/>
<rect x="242" y="0" width="1" height="22" fill="#fff"/>
<rect x="916" y="0" width="1" height="22" fill="#fff"/>
<rect x="1177" y="0" width="1" height="22" fill="#fff"/>
<rect x="245" y="1" width="3" height="1" fill="#b4b4b4"/>
<rect x="245" y="3" width="3" height="1" fill="#b4b4b4"/>
<rect x="245" y="5" width="3" height="1" fill="#b4b4b4"/>
<rect x="245" y="7" width="3" height="1" fill="#b4b4b4"/>
<rect x="245" y="9" width="3" height="1" fill="#b4b4b4"/>
<rect x="245" y="11" width="3" height="1" fill="#b4b4b4"/>
<rect x="245" y="13" width="3" height="1" fill="#b4b4b4"/>
<rect x="245" y="15" width="3" height="1" fill="#b4b4b4"/>
<rect x="245" y="17" width="3" height="1" fill="#b4b4b4"/>
<rect x="245" y="19" width="3" height="1" fill="#b4b4b4"/>
<rect x="613" y="1" width="3" height="1" fill="#b4b4b4"/>
<rect x="613" y="3" width="3" height="1" fill="#b4b4b4"/>
<rect x="613" y="5" width="3" height="1" fill="#b4b4b4"/>
<rect x="613" y="7" width="3" height="1" fill="#b4b4b4"/>
<rect x="613" y="9" width="3" height="1" fill="#b4b4b4"/>
<rect x="613" y="11" width="3" height="1" fill="#b4b4b4"/>
<rect x="613" y="13" width="3" height="1" fill="#b4b4b4"/>
<rect x="613" y="15" width="3" height="1" fill="#b4b4b4"/>
<rect x="613" y="17" width="3" height="1" fill="#b4b4b4"/>
<rect x="613" y="19" width="3" height="1" fill="#b4b4b4"/>
<rect x="919" y="1" width="3" height="1" fill="#b4b4b4"/>
<rect x="919" y="3" width="3" height="1" fill="#b4b4b4"/>
<rect x="919" y="5" width="3" height="1" fill="#b4b4b4"/>
<rect x="919" y="7" width="3" height="1" fill="#b4b4b4"/>
<rect x="919" y="9" width="3" height="1" fill="#b4b4b4"/>
<rect x="919" y="11" width="3" height="1" fill="#b4b4b4"/>
<rect x="919" y="13" width="3" height="1" fill="#b4b4b4"/>
<rect x="919" y="15" width="3" height="1" fill="#b4b4b4"/>
<rect x="919" y="17" width="3" height="1" fill="#b4b4b4"/>
<rect x="919" y="19" width="3" height="1" fill="#b4b4b4"/>
<rect x="280" y="0" width="24" height="21" fill="#f9f9f9"/>
<rect x="280" y="21" width="25" height="1" fill="#fff"/>
<rect x="304" y="0" width="1" height="22" fill="#fff"/>
<rect x="432" y="0" width="24" height="21" fill="#f9f9f9"/>
<rect x="432" y="21" width="25" height="1" fill="#fff"/>
<rect x="456" y="0" width="1" height="22" fill="#fff"/>
<rect x="460" y="0" width="24" height="21" fill="#f9f9f9"/>
<rect x="460" y="21" width="25" height="1" fill="#fff"/>
<rect x="484" y="0" width="1" height="22" fill="#fff"/>
<rect x="620" y="0" width="24" height="21" fill="#f9f9f9"/>
<rect x="620" y="21" width="25" height="1" fill="#fff"/>
<rect x="644" y="0" width="1" height="22" fill="#fff"/>
<rect x="1066" y="0" width="24" height="21" fill="#f9f9f9"/>
<rect x="1066" y="21" width="25" height="1" fill="#fff"/>
<rect x="1090" y="0" width="1" height="22" fill="#fff"/>
<rect x="520" y="9" width="5" height="1" fill="#fff"/>
<rect x="519" y="10" width="7" height="1" fill="#fafafa"/>
<rect x="520" y="10" width="5" height="1" fill="#000"/>
<rect x="520" y="11" width="5" height="1" fill="#fafafa"/>
<rect x="521" y="11" width="3" height="1" fill="#000"/>
<rect x="521" y="12" width="3" height="1" fill="#fafafa"/>
<rect x="522" y="12" width="1" height="1" fill="#000"/>
<rect x="522" y="13" width="1" height="1" fill="#fafafa"/>
<rect x="559" y="9" width="5" height="1" fill="#fff"/>
<rect x="558" y="10" width="7" height="1" fill="#fafafa"/>
<rect x="559" y="10" width="5" height="1" fill="#000"/>
<rect x="559" y="11" width="5" height="1" fill="#fafafa"/>
<rect x="560" y="11" width="3" height="1" fill="#000"/>
<rect x="560" y="12" width="3" height="1" fill="#fafafa"/>
<rect x="561" y="12" width="1" height="1" fill="#000"/>
<rect x="561" y="13" width="1" height="1" fill="#fafafa"/>
<rect x="598" y="9" width="5" height="1" fill="#fff"/>
<rect x="597" y="10" width="7" height="1" fill="#fafafa"/>
<rect x="598" y="10" width="5" height="1" fill="#000"/>
<rect x="598" y="11" width="5" height="1" fill="#fafafa"/>
<rect x="599" y="11" width="3" height="1" fill="#000"/>
<rect x="599" y="12" width="3" height="1" fill="#fafafa"/>
<rect x="600" y="12" width="1" height="1" fill="#000"/>
<rect x="600" y="13" width="1" height="1" fill="#fafafa"/>
<rect x="904" y="9" width="5" height="1" fill="#fff"/>
<rect x="903" y="10" width="7" height="1" fill="#fafafa"/>
<rect x="904" y="10" width="5" height="1" fill="#000"/>
<rect x="904" y="11" width="5" height="1" fill="#fafafa"/>
<rect x="905" y="11" width="3" height="1" fill="#000"/>
<rect x="905" y="12" width="3" height="1" fill="#fafafa"/>
<rect x="906" y="12" width="1" height="1" fill="#000"/>
<rect x="906" y="13" width="1" height="1" fill="#fafafa"/>
</g>
<g shape-rendering="geometricPrecision">
<path d="M15.5 3.5h8l3.5 3.5v10h-11.5z" fill="#fff" stroke="#7c7c7c" stroke-width="1"/>
<path d="M23.5 3.5v3.5h3.500" fill="#e8e8e8" stroke="#7c7c7c" stroke-width="1"/>
<path d="M17.5 6.5h3 M17.5 9.5h7 M17.5 11.5h6 M17.5 13.5h3" stroke="#9a9a9a" stroke-width="1"/>
<path d="M23.2 9.5h3.6v3.700h3.700v3.600h-3.700v3.700h-3.600v-3.700h-3.700v-3.600h3.700z" fill="#2bd02b" stroke="#0a7d0a" stroke-width=".9" stroke-linejoin="miter"/>
<path d="M24.2 10.6h1.600 M20.6 14.3h8.800" stroke="#a8f7a8" stroke-width=".9" fill="none"/>
<text x="34" y="14.3" font-size="12" fill="#000" style="font-family:'Liberation Sans','Noto Sans CJK SC',sans-serif">新订单</text>
<defs><linearGradient id="gold" x1="0" y1="0" x2="1" y2="1"><stop offset="0" stop-color="#f7d75a"/><stop offset=".55" stop-color="#e3a92a"/><stop offset="1" stop-color="#a86e0c"/></linearGradient></defs>
<path d="M87.900 4.200L97.500 11.400L97.800 13.200L89.900 18.900L82.100 12.800C85 11 87 8.500 87.900 4.200Z" fill="url(#gold)" stroke="#9a6410" stroke-width=".9" stroke-linejoin="round"/>
<path d="M90.300 18.100L97.300 13L97.200 12L90.100 17Z" fill="#ece0b0"/>
<path d="M83.300 12.600L90 17.600" stroke="#f6e08a" stroke-width="1.300" fill="none"/>
<path d="M112.300 4.200L114.500 3.100H120.500L123 4.600V13H112.300Z" fill="#1a9af0" stroke="#0a78d8" stroke-width=".6"/>
<path d="M112.500 4.500L115.600 6V12.500H112.500Z" fill="#0a86e4"/><path d="M115.600 5.800V12.500" stroke="#d8efff" stroke-width=".9"/><path d="M117.500 8h4.200" stroke="#e8f6ff" stroke-width="1.100"/><path d="M117.300 10.500h4.500" stroke="#7cc8ff" stroke-width=".8"/>
<defs><linearGradient id="cl" x1="0" y1="0" x2="0" y2="1"><stop offset="0" stop-color="#ffffff"/><stop offset="1" stop-color="#b4c0d8"/></linearGradient></defs>
<path d="M113 18.600C109.500 18.600 109.500 14 113 13.800C113.500 11 117.500 10.500 118.800 12.600C120.500 11 123.500 12 123.300 14C126.500 14 126.500 18.600 123.500 18.600Z" fill="url(#cl)" stroke="#3a5c9c" stroke-width=".9"/>
<circle cx="146.3" cy="10.8" r="7.8" fill="none" stroke="#3f78d8" stroke-width="1.200" opacity="0.4"/>
<circle cx="146.3" cy="10.8" r="5.4" fill="none" stroke="#3f78d8" stroke-width="1.200" opacity="0.55"/>
<circle cx="146.3" cy="10.8" r="3" fill="none" stroke="#3f78d8" stroke-width="1.200" opacity="0.8"/>
<path d="M146.3 10.8L152.70000000000002 6.300000000000001A7.8 7.8 0 0 1 146.3 18.6Z" fill="#3aa83a" opacity=".5"/>
<path d="M149.3 12.8L153.10000000000002 14.4A7.8 7.8 0 0 1 146.8 18.6Z" fill="#2a9a2a" opacity=".45"/>
<circle cx="146.3" cy="10.8" r="1.700" fill="#2a5fd0"/><path d="M146.8 11.3V18.700" stroke="#1ca51c" stroke-width="1.400"/>
<path d="M165.300 9.800L181 9.600L177.500 15L173.500 19L171 17.500Z" fill="#f8df58" stroke="#cfa020" stroke-width=".8" stroke-linejoin="round"/>
<ellipse cx="173.100" cy="7.900" rx="7.900" ry="2.700" fill="#62b2de" stroke="#2a86b4" stroke-width=".8"/>
<path d="M169.200 7.600C169.200 1.800 177 1.800 177 7.600C175 8.600 171.200 8.600 169.200 7.600Z" fill="#74c0e6" stroke="#2a86b4" stroke-width=".7"/>
<circle cx="177.400" cy="14.700" r="4.100" fill="#e62a10" stroke="#b81a08" stroke-width=".6"/><rect x="175.900" y="13.100" width="3.100" height="3" fill="#fff"/>
<text x="185.05" y="14.4" font-size="12.3" fill="#000" style="font-family:'Liberation Sans','Noto Sans CJK SC',sans-serif">自动交易</text>
<path d="M259.5 6.5V19.3 M256.7 16.5H269.5" stroke="#555" stroke-width="1.2" fill="none"/>
<path d="M257.5 8.2L259.5 4.8L261.5 8.2Z M268.3 14.5L271.5 16.5L268.3 18.5Z" fill="#555"/>
<path d="M266 6.500V14.500 M266 7.500h2.500 M263.300 13.500h2.700" stroke="#1c8a1c" stroke-width="1.4" fill="none"/>
<path d="M287.5 6.5V19.3 M284.7 16.5H297.5" stroke="#555" stroke-width="1.2" fill="none"/>
<path d="M285.5 8.2L287.5 4.8L289.5 8.2Z M296.3 14.5L299.5 16.5L296.3 18.5Z" fill="#555"/>
<path d="M293.500 3V14.800" stroke="#1c8a1c" stroke-width="1.200"/><rect x="291.300" y="5.500" width="4.400" height="7" fill="#3fdc4f" stroke="#1c8a1c" stroke-width="1"/>
<path d="M315.5 6.5V19.3 M312.7 16.5H325.5" stroke="#555" stroke-width="1.2" fill="none"/>
<path d="M313.5 8.2L315.5 4.800L317.5 8.2Z M324.3 14.5L327.5 16.5L324.3 18.5Z" fill="#555"/>
<path d="M314 14.200C317 12 318.500 8 320.500 8S324 11.200 326.500 12" stroke="#2a9a2a" stroke-width="1.300" fill="none"/>
<path d="M354.8 12.600000000000001L359.8 17.6" stroke="#a8801a" stroke-width="3.200" stroke-linecap="round"/>
<path d="M355 12.8L359.6 17.4" stroke="#f0d050" stroke-width="1.600" stroke-linecap="round"/>
<circle cx="351" cy="8.8" r="5.400" fill="#d4ecfb" stroke="#2f7fd6" stroke-width="1.300"/>
<path d="M348 8.8h6" stroke="#3a86b8" stroke-width="1.800"/>
<path d="M351 5.800000000000001v6" stroke="#3a86b8" stroke-width="1.800"/>
<path d="M383.0 12.600000000000001L388.0 17.6" stroke="#a8801a" stroke-width="3.200" stroke-linecap="round"/>
<path d="M383.2 12.8L387.8 17.4" stroke="#f0d050" stroke-width="1.600" stroke-linecap="round"/>
<circle cx="379.2" cy="8.8" r="5.400" fill="#d4ecfb" stroke="#2f7fd6" stroke-width="1.300"/>
<path d="M376.2 8.8h6" stroke="#3a86b8" stroke-width="1.800"/>
<rect x="401" y="3" width="8" height="8" fill="#3aa32a"/><rect x="401" y="3" width="8" height="2.500" fill="#2d8a20"/>
<path d="M402.5 6.5h5v3.500h-1v-1.500h-3v1.500h-1z" fill="#fff" opacity=".92"/><rect x="401.8" y="3.8" width="1" height="1" fill="#fff" opacity=".8"/>
<rect x="409" y="3" width="8" height="8" fill="#2f62d8"/><rect x="409" y="3" width="8" height="2.500" fill="#1f49b8"/>
<path d="M410.5 6.5h5v3.500h-1v-1.500h-3v1.500h-1z" fill="#fff" opacity=".92"/><rect x="409.8" y="3.8" width="1" height="1" fill="#fff" opacity=".8"/>
<rect x="401" y="11" width="8" height="8" fill="#2f62d8"/><rect x="401" y="11" width="8" height="2.500" fill="#1f49b8"/>
<path d="M402.5 14.5h5v3.500h-1v-1.500h-3v1.500h-1z" fill="#fff" opacity=".92"/><rect x="401.8" y="11.8" width="1" height="1" fill="#fff" opacity=".8"/>
<rect x="409" y="11" width="8" height="8" fill="#3aa32a"/><rect x="409" y="11" width="8" height="2.500" fill="#2d8a20"/>
<path d="M410.5 14.5h5v3.500h-1v-1.500h-3v1.500h-1z" fill="#fff" opacity=".92"/><rect x="409.8" y="11.8" width="1" height="1" fill="#fff" opacity=".8"/>
<path d="M439.5 6.5V19.3 M436.7 16.5H449.5" stroke="#555" stroke-width="1.2" fill="none"/>
<path d="M437.5 8.2L439.5 4.8L441.5 8.2Z M448.3 14.5L451.5 16.5L448.3 18.5Z" fill="#555"/>
<path d="M444.300 7L448.300 10.600L444.300 14.200Z" fill="#38c838" stroke="#1c8a1c" stroke-width=".9" stroke-linejoin="round"/>
<path d="M467.5 6.5V19.3 M464.7 16.5H477.5" stroke="#555" stroke-width="1.2" fill="none"/>
<path d="M465.5 8.2L467.5 4.8L469.5 8.2Z M476.3 14.5L479.5 16.5L476.3 18.5Z" fill="#555"/>
<path d="M473.500 5V15" stroke="#1c6a9a" stroke-width="1.300"/>
<path d="M474.800 10.500L477.600 8.200V9.900H480V11.100H477.600V12.800Z" fill="#e84a10"/>
<path d="M498.5 3.5h8l3.5 3.5v10h-11.5z" fill="#fff" stroke="#7c7c7c" stroke-width="1"/>
<path d="M506.5 3.5v3.5h3.5" fill="#e8e8e8" stroke="#7c7c7c" stroke-width="1"/>
<path d="M503.800 6c-1.500-.3-2 .4-2 1.600v6 M500.500 9.500h3" stroke="#555" stroke-width="1" fill="none"/>
<path d="M506.2 9.5h3.6v3.700h3.700v3.600h-3.700v3.700h-3.600v-3.700h-3.700v-3.600h3.700z" fill="#2bd02b" stroke="#0a7d0a" stroke-width=".9" stroke-linejoin="miter"/>
<path d="M507.2 10.6h1.600 M503.6 14.3h8.800" stroke="#a8f7a8" stroke-width=".9" fill="none"/>
<defs><linearGradient id="ck" x1="0" y1="0" x2="0" y2="1"><stop offset="0" stop-color="#3a8af0"/><stop offset="1" stop-color="#0a48b0"/></linearGradient></defs>
<circle cx="544.200" cy="10.800" r="6.500" fill="#f2f7ff" stroke="url(#ck)" stroke-width="2.300"/>
<circle cx="544.200" cy="10.800" r="7.600" fill="none" stroke="#0f4aa8" stroke-width=".6"/>
<path d="M544.200 6.500V11H547.500" stroke="#333" stroke-width="1.200" fill="none"/>
<rect x="575.500" y="4.500" width="15" height="13" fill="#fff" stroke="#2f6fc8" stroke-width="1"/><rect x="575" y="4" width="16" height="2.200" fill="#4a8ee0"/><path d="M576 11.500h14" stroke="#2f6fc8" stroke-width="1"/>
<path d="M577.500 9.800h2l1.500-1.500h2l1.500 1h2l1.500-1.200h1" stroke="#b02010" stroke-width="1.200" fill="none"/>
<path d="M577.500 15.500h2l1.500-1h2l2-1.600l2 2.200" stroke="#1c8a1c" stroke-width="1.200" fill="none"/>
<path d="M627 4V16.200L629.800 13.600L632 18.300L633.800 17.500L631.700 12.900H635.400Z" fill="#444"/>
<path d="M659.500 4V19 M652 11.500H667" stroke="#555" stroke-width="1.100"/>
<path d="M693.500 5V18 M716 11.500H728" stroke="#555" stroke-width="1.300"/><path d="M744 18L756 5.500" stroke="#555" stroke-width="1.300"/>
<path d="M770 14.500L783 4 M772.500 17.500L784.500 8 M773 12V17 M776.500 9V15 M780 6V12.500 M783 3V9.500" stroke="#444" stroke-width="1" fill="none"/>
<text x="780.800" y="20" font-size="7" font-weight="bold" fill="#333">E</text>
<path d="M799 4.5H812" stroke="#444" stroke-width="1" stroke-dasharray="1 1"/>
<path d="M799 7.5H812" stroke="#444" stroke-width="1" stroke-dasharray="1 1"/>
<path d="M799 11.5H812" stroke="#444" stroke-width="1" stroke-dasharray="1 1"/>
<path d="M799 15.5H808" stroke="#444" stroke-width="1" stroke-dasharray="1 1"/>
<text x="808.800" y="20" font-size="7" font-weight="bold" fill="#333">F</text>
<text x="829.600" y="16" font-size="12.300" fill="#4a4a4a">A</text>
<g shape-rendering="crispEdges"><path d="M856 5.500H868 M856 17.500H868 M856.500 5V18 M867.500 5V18" fill="none" stroke="#444" stroke-width="1" stroke-dasharray="1 1"/></g><path d="M858.500 8.500h7.500 M862.200 8.500V16" stroke="#444" stroke-width="1.500"/>
<path d="M883 8.500L886.500 5L890 8.500L886.500 10Z M890.500 15L894 13.500L897.500 15L894 18.500Z" fill="#444"/><path d="M885.500 12.500L888 15L893 8.500" stroke="#444" stroke-width="1.300" fill="none"/>
<circle cx="1646.500" cy="8.500" r="3.900" fill="#fcfcff" stroke="#2a5ad0" stroke-width="1.300"/><path d="M1643.500 11.500L1638.800 16.200" stroke="#2a5ad0" stroke-width="2.200"/>
<path d="M1664 13.500c0-6 12-6 12 0c0 3-3 4.500-7 4.300l-2.500 2v-2.600c-1.600-.8-2.500-2-2.500-3.700z" fill="#e4e6f0" stroke="#b8b8b8" stroke-width=".8"/>
<defs><linearGradient id="rd" x1="0" y1="0" x2="0" y2="1"><stop offset="0" stop-color="#ea5a3a"/><stop offset="1" stop-color="#d42010"/></linearGradient></defs>
<circle cx="1677.500" cy="8.300" r="8.200" fill="url(#rd)"/>
<path d="M1676.300 3.800h2.100v8.100h2.100v1.300h-6.600v-1.300h2.400v-6.200l-2.300 1v-1.500z" fill="#fff"/>
</g>
<text x="930.8" y="14.800" font-size="9.300" fill="#444">M1</text>
<text x="958.8" y="14.800" font-size="9.300" fill="#444">M5</text>
<text x="984.6" y="14.800" font-size="9.300" fill="#444">M15</text>
<text x="1012.7" y="14.800" font-size="9.300" fill="#444">M30</text>
<text x="1043.6" y="14.800" font-size="9.300" fill="#444">H1</text>
<text x="1070.8" y="14.800" font-size="9.300" fill="#444">H4</text>
<text x="1099.8" y="14.800" font-size="9.300" fill="#444">D1</text>
<text x="1127" y="14.800" font-size="9.300" fill="#444">W1</text>
<text x="1153.8" y="14.800" font-size="9.300" fill="#444">MN</text>
</svg>
</body></html>
